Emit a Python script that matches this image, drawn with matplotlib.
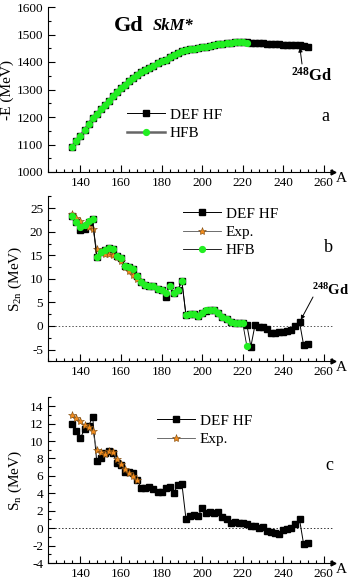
import matplotlib
matplotlib.use("Agg")
import matplotlib.pyplot as plt
from matplotlib.ticker import MultipleLocator

plt.rcParams['font.family'] = ['Liberation Serif', 'DejaVu Serif']
plt.rcParams['mathtext.fontset'] = 'custom'
plt.rcParams['mathtext.rm'] = 'Liberation Serif'
plt.rcParams['mathtext.it'] = 'Liberation Serif:italic'
plt.rcParams['mathtext.bf'] = 'Liberation Serif:bold'
plt.rcParams['axes.unicode_minus'] = False

# mass numbers
A_def = list(range(136, 254, 2))
A_hfb = list(range(136, 224, 2))
A_exp = list(range(136, 170, 2))

# panel a: -E (MeV)
E_hfb = [1090, 1111, 1132, 1153, 1175, 1197, 1212, 1228, 1244, 1260,
         1276, 1291, 1305, 1318, 1330, 1342, 1353, 1362, 1371, 1379,
         1387, 1395, 1402, 1409, 1417, 1424, 1431, 1440, 1443, 1446,
         1448, 1450, 1453, 1456, 1459, 1462, 1465, 1467, 1469, 1470,
         1471, 1472, 1473, 1469]
E_def = E_hfb[:43] + [1473, 1469, 1469, 1469, 1468, 1467, 1466, 1465,
                      1464, 1463, 1462, 1461, 1461, 1462, 1457, 1453]

# panel b: S2n (MeV)
S2n_def = [23.4, 22.0, 20.4, 20.6, 22.0, 22.7, 14.7, 15.6, 16.1, 16.6,
           16.3, 14.9, 14.4, 12.7, 12.5, 12.1, 10.7, 9.4, 8.7, 8.4,
           8.4, 7.9, 7.6, 6.2, 8.6, 6.9, 7.7, 9.5, 2.3, 2.5,
           2.6, 2.1, 2.8, 3.2, 3.3, 3.3, 2.8, 2.0, 1.4, 0.8,
           0.6, 0.7, 0.6,
           0.3, -4.4, 0.1, -0.15, -0.3, -0.6, -1.4, -1.5, -1.3, -1.2,
           -1.1, -0.9, -0.1, 0.8, -4.0, -3.8]
S2n_hfb = [23.4, 22.0, 20.9, 21.5, 22.2, 22.7, 14.7, 15.6, 16.1, 16.6,
           16.3, 14.9, 14.4, 12.7, 12.5, 12.1, 10.7, 9.4, 8.7, 8.4,
           8.4, 7.9, 7.6, 7.1, 8.4, 6.9, 7.6, 9.5, 2.4, 2.5,
           2.6, 2.1, 2.8, 3.3, 3.4, 3.3, 2.8, 2.0, 1.4, 0.8,
           0.6, 0.7, 0.6, -4.2]
S2n_exp = [23.8, 23.0, 22.2, 21.5, 21.0, 20.6, 16.4, 15.7, 15.2, 15.2,
           15.0, 14.6, 13.8, 12.5, 11.7, 10.8, 9.9]

# panel c: Sn (MeV)
Sn_def = [12.0, 11.1, 10.3, 11.4, 11.7, 12.8, 7.7, 8.1, 8.6, 8.9,
          8.6, 7.5, 7.3, 6.5, 6.5, 6.3, 5.5, 4.6, 4.6, 4.7,
          4.5, 4.2, 4.1, 4.6, 4.7, 4.0, 5.0, 5.1, 1.1, 1.45,
          1.55, 1.4, 2.3, 1.8, 1.9, 1.8, 1.9, 1.25, 1.0, 0.55,
          0.7, 0.55, 0.65, 0.45, 0.3, 0.2, 0.0, 0.1, -0.3, -0.45,
          -0.55, -0.7, -0.2, -0.1, 0.0, 0.45, 1.0, -1.8, -1.7]
Sn_exp = [13.0, 12.6, 12.3, 11.8, 11.6, 11.2, 9.0, 8.7, 8.5, 8.9,
          8.7, 7.9, 7.4, 6.8, 6.3, 6.0, 5.5]

W, H = 352, 581
fig = plt.figure(figsize=(W / 100, H / 100), dpi=100)

GREEN = '#22ee22'
ORANGE = '#f08a1c'


def px(x, y):
    return (x / W, 1 - y / H)


def make_axes(top, bottom):
    ax = fig.add_axes([48 / W, 1 - bottom / H, 285 / W, (bottom - top) / H])
    ax.spines['top'].set_visible(False)
    ax.spines['right'].set_visible(False)
    ax.set_xlim(124, 264.5)
    ax.xaxis.set_major_locator(MultipleLocator(20))
    ax.xaxis.set_minor_locator(MultipleLocator(4))
    ax.tick_params(which='both', direction='in', labelsize=9.5, width=0.8)
    ax.tick_params(which='major', length=5)
    ax.tick_params(which='minor', length=2.5)
    ax.set_xticks([140, 160, 180, 200, 220, 240, 260])
    ax.plot(1, 0, '>', color='k', ms=3.5, transform=ax.transAxes, clip_on=False)
    ax.text(1.01, -0.04, 'A', transform=ax.transAxes, fontsize=11,
            ha='left', va='center')
    return ax


def def_hf(ax, x, y, label='DEF HF'):
    ax.plot(x, y, '-', color='k', lw=0.7, marker='s', ms=4.6,
            mfc='k', mec='k', label=label, zorder=2)


def exp(ax, x, y):
    ax.plot(x, y, '-', color='#555555', lw=0.6, marker='*', ms=6,
            mfc=ORANGE, mec='#7a4a10', mew=0.4, label='Exp.', zorder=3)


leg_kw = dict(loc='upper left', frameon=False, fontsize=11, handlelength=2.5,
              handletextpad=0.3, labelspacing=0.3, borderaxespad=0,
              borderpad=0)

# ---- panel a ----
axa = make_axes(7, 172)
axa.set_ylim(1000, 1600)
axa.yaxis.set_major_locator(MultipleLocator(100))
axa.yaxis.set_minor_locator(MultipleLocator(50))
def_hf(axa, A_def, E_def)
axa.plot(A_hfb, E_hfb, '-', color='#666666', lw=1.8, marker='o', ms=4.2,
         mfc=GREEN, mec=GREEN, label='HFB', zorder=3)
axa.set_ylabel('-E (MeV)', fontsize=11, labelpad=2)
axa.legend(bbox_to_anchor=((127 - 48) / 285, (172 - 108) / 165), **leg_kw)
fig.text(*px(114, 26), 'Gd', fontsize=16, fontweight='bold', va='center')
fig.text(*px(153, 26), 'SkM*', fontsize=12, fontweight='bold',
         style='italic', va='center')
fig.text(*px(321, 117), 'a', fontsize=13, va='center')
axa.annotate('', xy=(248, 1462), xytext=px(302, 64),
             textcoords='figure fraction',
             arrowprops=dict(arrowstyle='-|>', color='k', lw=0.7,
                             mutation_scale=6, shrinkA=0, shrinkB=2))
fig.text(*px(291, 76), r'$^{\mathbf{248}}$Gd', fontsize=12,
         fontweight='bold', va='center')

# ---- panel b ----
axb = make_axes(196.4, 361.3)
axb.set_ylim(-7.5, 27.5)
axb.yaxis.set_major_locator(MultipleLocator(5))
axb.yaxis.set_minor_locator(MultipleLocator(2.5))
axb.axhline(0, color='#555555', lw=0.7, ls=(0, (1.5, 2)), zorder=1)
def_hf(axb, A_def, S2n_def)
exp(axb, A_exp, S2n_exp)
axb.plot(A_hfb, S2n_hfb, '-', color='k', lw=0.6, marker='o', ms=4.2,
         mfc=GREEN, mec=GREEN, label='HFB', zorder=4)
axb.set_ylabel(r'S$_{\rm 2n}$ (MeV)', fontsize=11, labelpad=4)
axb.legend(bbox_to_anchor=((183 - 48) / 285, (361.3 - 207) / 165), **leg_kw)
fig.text(*px(324, 248), 'b', fontsize=13, va='center')
axb.annotate('', xy=(248, 0.8), xytext=px(313, 297),
             textcoords='figure fraction',
             arrowprops=dict(arrowstyle='-|>', color='k', lw=0.7,
                             mutation_scale=6, shrinkA=0, shrinkB=2))
fig.text(*px(312, 290), r'$^{\mathbf{248}}$Gd', fontsize=10.5,
         fontweight='bold', va='center')

# ---- panel c ----
axc = make_axes(397.4, 563.1)
axc.set_ylim(-4, 15)
axc.yaxis.set_major_locator(MultipleLocator(2))
axc.yaxis.set_minor_locator(MultipleLocator(1))
axc.axhline(0, color='#333333', lw=0.7, ls=(0, (1.5, 2)), zorder=1)
def_hf(axc, A_def, Sn_def)
exp(axc, A_exp, Sn_exp)
axc.set_ylabel(r'S$_{\rm n}$ (MeV)', fontsize=11, labelpad=4)
axc.legend(bbox_to_anchor=((157 - 48) / 285, (563.1 - 414) / 165.7), **leg_kw)
fig.text(*px(325, 466), 'c', fontsize=13, va='center')

fig.savefig('out.png', dpi=100)
